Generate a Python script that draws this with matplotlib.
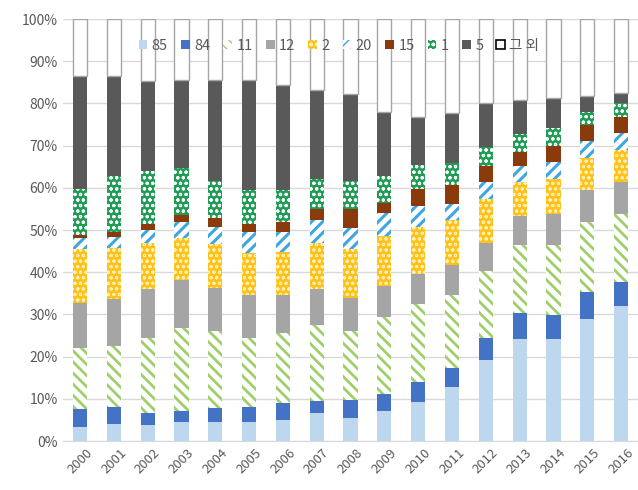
import matplotlib
matplotlib.use("Agg")
import matplotlib.pyplot as plt
import numpy as np
from matplotlib.patches import Patch

plt.rcParams['font.family'] = ['Noto Sans CJK KR', 'DejaVu Sans']

years = [str(y) for y in range(2000, 2017)]

# share of each group per year (percent), stacked bottom to top
s85 = [3.2, 4.0, 3.9, 4.4, 4.6, 4.6, 5.0, 6.7, 5.4, 7.0, 9.3, 12.9, 19.2, 24.1, 24.1, 28.9, 32.0]
s84 = [4.4, 4.0, 2.7, 2.8, 3.3, 3.4, 4.1, 2.8, 4.2, 4.1, 4.6, 4.5, 5.3, 6.2, 5.8, 6.3, 5.6]
s11 = [14.5, 14.5, 17.9, 19.7, 18.2, 16.3, 16.4, 17.9, 16.5, 18.4, 18.5, 17.2, 15.8, 16.2, 16.6, 16.6, 16.2]
s12 = [10.5, 11.1, 11.5, 11.3, 10.1, 10.2, 9.1, 8.6, 7.7, 7.3, 7.1, 7.1, 6.7, 6.9, 7.3, 7.7, 7.7]
s2 = [12.9, 12.1, 10.9, 9.9, 10.4, 10.0, 10.1, 10.9, 11.7, 11.9, 11.2, 10.7, 10.3, 7.9, 8.3, 7.5, 7.5]
s20 = [2.6, 2.6, 3.1, 3.8, 4.1, 5.0, 4.9, 5.4, 4.9, 5.3, 5.0, 3.8, 4.0, 3.8, 4.0, 4.2, 4.0]
s15 = [0.8, 1.3, 1.4, 1.7, 2.1, 1.9, 2.2, 2.6, 4.6, 2.4, 4.1, 4.4, 3.8, 3.5, 3.9, 3.6, 3.9]
s1 = [10.9, 13.3, 12.6, 11.1, 8.9, 8.1, 7.7, 7.2, 6.7, 6.5, 5.7, 5.2, 4.5, 4.2, 4.2, 3.1, 3.2]
s5 = [26.6, 23.5, 21.4, 20.9, 23.9, 26.1, 24.8, 21.1, 20.5, 15.2, 11.2, 11.9, 10.5, 8.1, 7.1, 3.8, 2.5]
etc = [13.6, 13.6, 14.6, 14.4, 14.4, 14.4, 15.7, 16.8, 17.8, 21.9, 23.3, 22.3, 19.9, 19.1, 18.7, 18.3, 17.4]

# name, values, face, hatch colour, hatch, hatch line width
series = [
    ("85", s85, "#bdd7ee", "#bdd7ee", None, 1.0),
    ("84", s84, "#4472c4", "#4472c4", None, 1.0),
    ("11", s11, "white", "#9fcf6a", "\\\\\\", 2.0),
    ("12", s12, "#a5a5a5", "#a5a5a5", None, 1.0),
    ("2", s2, "#ffc21a", "#fff0b8", "ooo", 0.7),
    ("20", s20, "white", "#3ea6e0", "///", 2.2),
    ("15", s15, "#8b3a0b", "#8b3a0b", None, 1.0),
    ("1", s1, "#1f9d55", "white", "ooo", 0.8),
    ("5", s5, "#595959", "#595959", None, 1.0),
]

fig = plt.figure(figsize=(6.38, 4.9), dpi=100)
ax = fig.add_axes([0.099, 0.1, 0.901, 0.861])

x = np.arange(len(years))
w = 0.42
bottom = np.zeros(len(years))
handles = []
for name, vals, fc, hc, hatch, hlw in series:
    with plt.rc_context({'hatch.linewidth': hlw}):
        ax.bar(x, vals, w, bottom=bottom, facecolor=fc, edgecolor=hc,
               hatch=hatch, linewidth=0, zorder=3)
        handles.append(Patch(facecolor=fc, edgecolor=hc, hatch=hatch,
                             linewidth=0, label=name))
    bottom += np.array(vals)

ax.bar(x, etc, w, bottom=bottom, facecolor="white", edgecolor="#a6a6a6",
       linewidth=1.0, zorder=3)
handles.append(Patch(facecolor="white", edgecolor="black", linewidth=1.2, label="그 외"))

ax.set_xlim(-0.5, len(years) - 0.5)
ax.set_ylim(0, 100)
ax.set_yticks(np.arange(0, 101, 10))
ax.set_yticklabels([f"{v}%" for v in range(0, 101, 10)], fontsize=10, color="#595959")
ax.set_xticks(x)
ax.set_xticklabels(years, rotation=45, fontsize=9.5, color="#595959")
ax.tick_params(length=0, pad=4)
ax.grid(axis="y", color="#d9d9d9", linewidth=1, zorder=0)
for sp in ["top", "right", "left"]:
    ax.spines[sp].set_visible(False)
ax.spines["bottom"].set_color("#d9d9d9")

leg = ax.legend(handles=handles, ncol=10, loc="upper center",
                bbox_to_anchor=(0.48, 0.985), frameon=False, fontsize=10.5,
                handlelength=0.6, handleheight=0.6, handletextpad=0.3,
                columnspacing=0.9)
for t in leg.get_texts():
    t.set_color("#595959")

fig.savefig("out.png", dpi=100)
